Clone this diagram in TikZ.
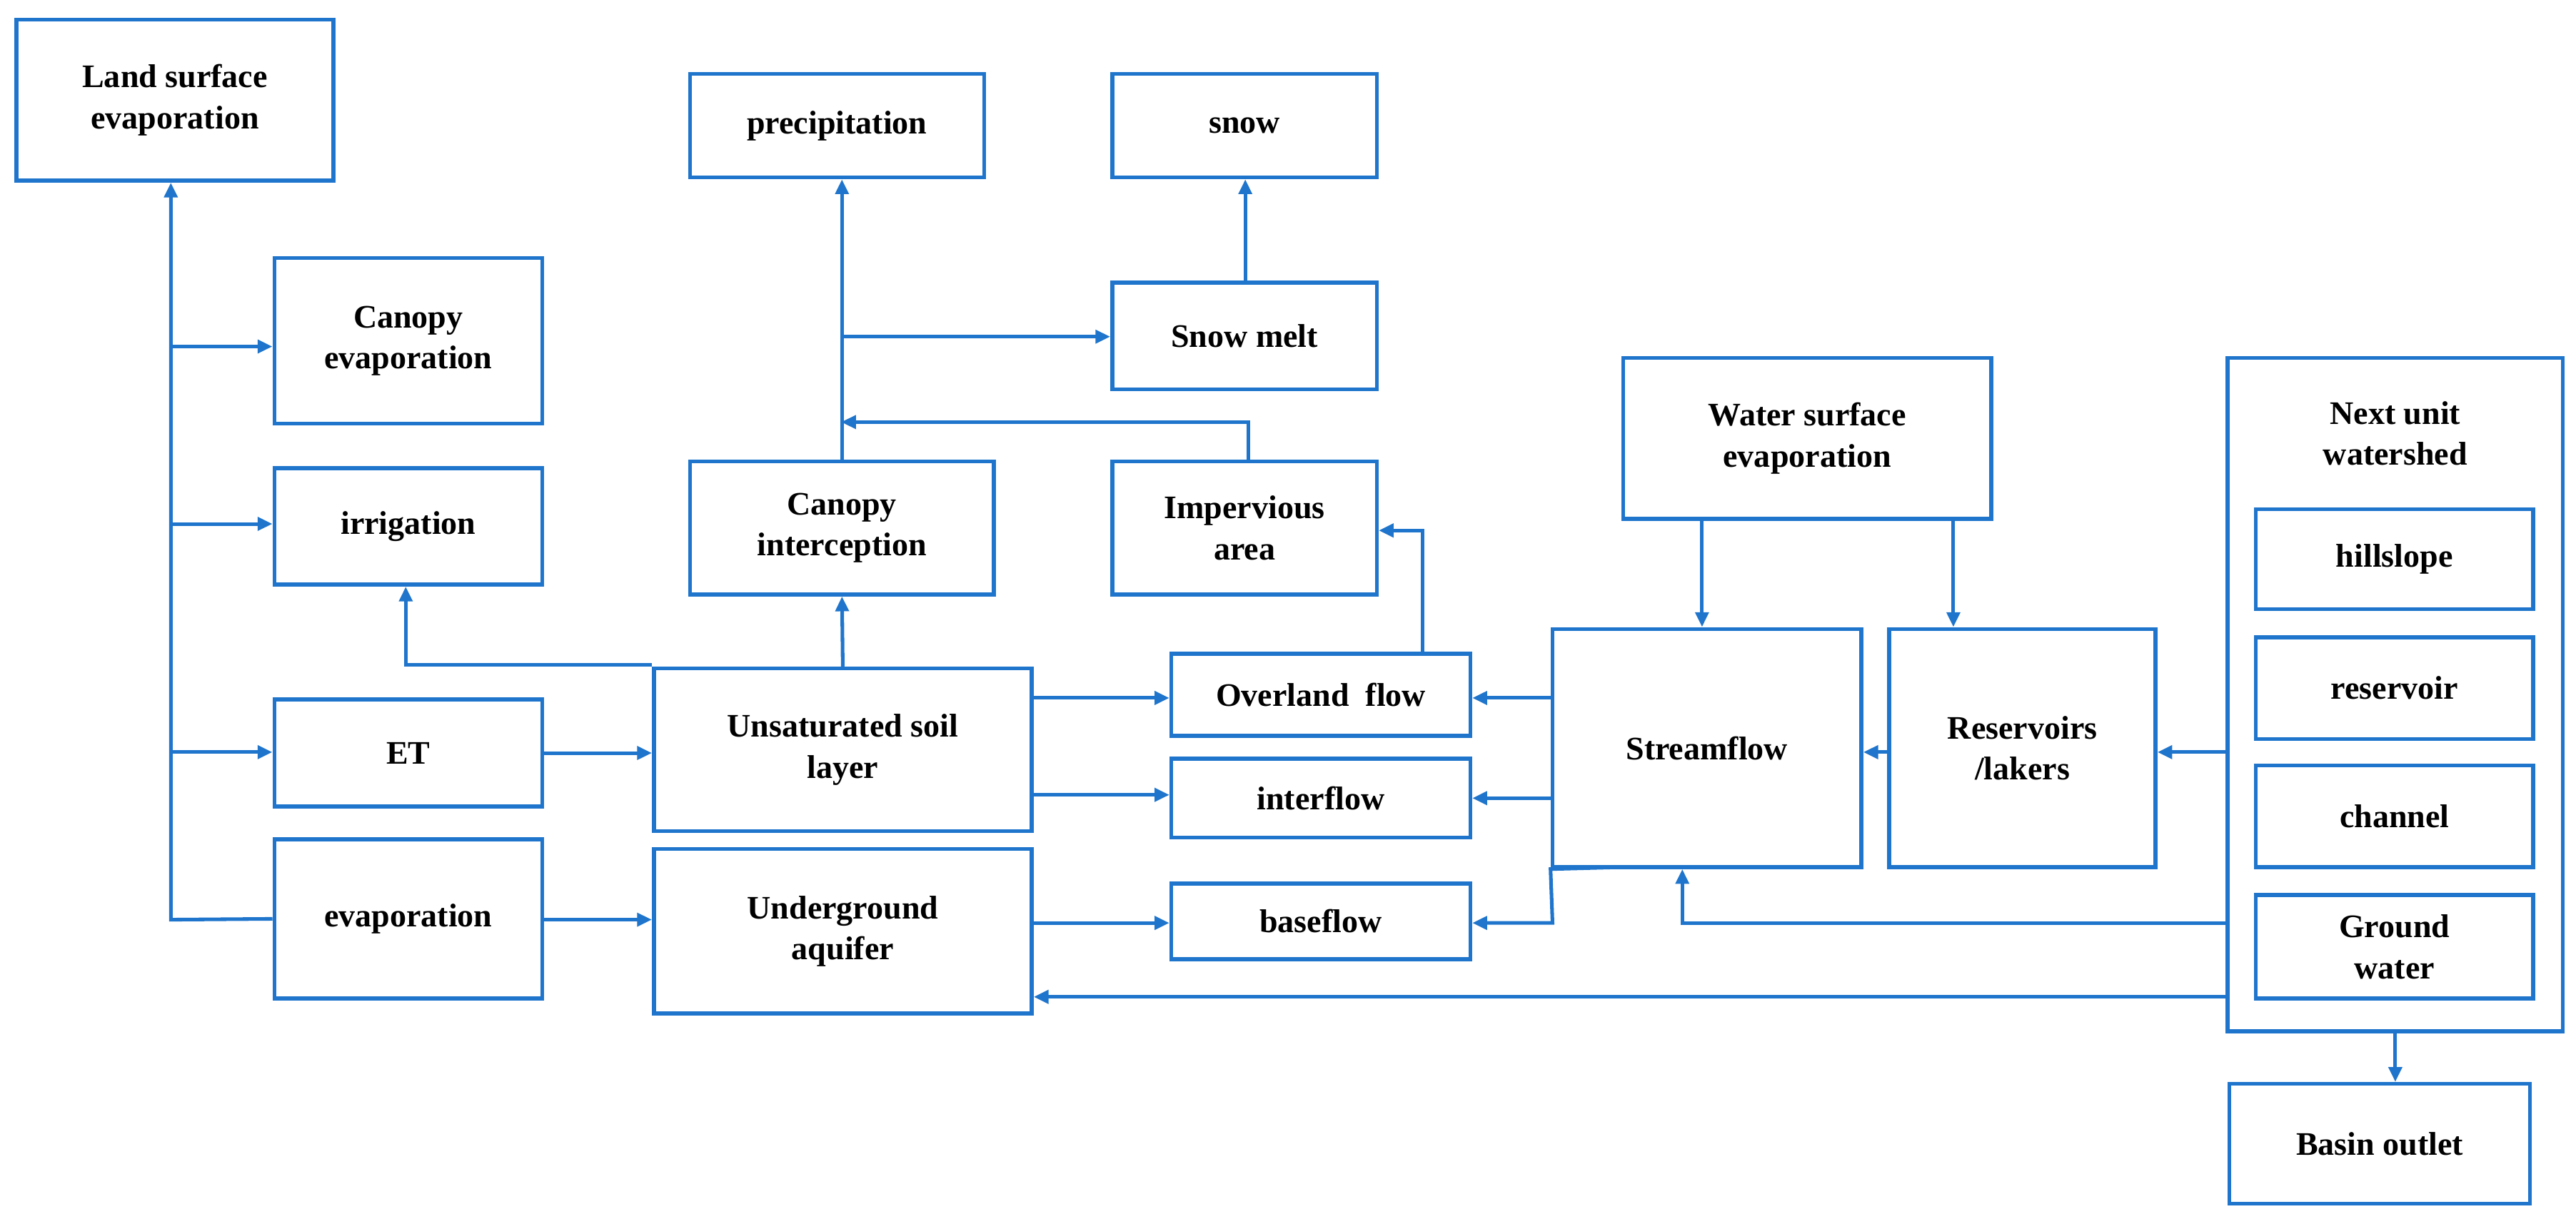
\documentclass[tikz,border=0pt]{standalone}
\usepackage{fontspec}
\setmainfont{Liberation Serif}
\usetikzlibrary{arrows.meta}
\definecolor{bl}{RGB}{31,117,204}
\begin{document}
\begin{tikzpicture}[x=1pt,y=-1pt,
 box/.style={draw=bl,line width=2.4pt,align=center,inner sep=0pt,font=\fontsize{20}{25}\selectfont\bfseries},
 ar/.style={draw=bl,line width=2.2pt,-{Triangle[length=9pt,width=8pt]}},
 ln/.style={draw=bl,line width=2.2pt}]
\useasboundingbox (0,0) rectangle (1568,745);
\newcommand{\bx}[6]{\node[box,minimum width=#4,minimum height=#5] (#1) at (#2,#3) {#6};}
\bx{land}{106.5}{61}{193}{98}{Land surface\\evaporation}
\bx{precip}{509.5}{76.5}{179}{63}{precipitation}
\bx{snow}{757.5}{76.5}{161}{63}{snow}
\bx{canevap}{248.5}{207.5}{163}{101}{Canopy\\evaporation}
\bx{snowmelt}{757.5}{204.5}{161}{65}{Snow melt}
\bx{water}{1100}{267}{224}{98}{Water surface\\evaporation}
\bx{next}{1458}{423}{204}{410}{}
\node[box,draw=none] (nextlbl) at (1458,264) {Next unit\\watershed};
\bx{hill}{1457.5}{340.5}{169}{61}{hillslope}
\bx{reservoir}{1457.5}{419}{169}{62}{reservoir}
\bx{channel}{1457.5}{497}{169}{62}{channel}
\bx{ground}{1457.5}{576.5}{169}{63}{Ground\\water}
\bx{basin}{1448.5}{696.5}{183}{73}{Basin outlet}
\bx{irrig}{248.5}{320.5}{163}{71}{irrigation}
\bx{canint}{512.5}{321.5}{185}{81}{Canopy\\interception}
\bx{imperv}{757.5}{321.5}{161}{81}{Impervious\\area}
\bx{unsat}{513}{456.5}{230}{99}{Unsaturated soil\\layer}
\bx{overland}{804}{423}{182}{50}{Overland~ flow}
\bx{inter}{804}{486}{182}{48}{interflow}
\bx{stream}{1039}{455.5}{188}{145}{Streamflow}
\bx{reslak}{1231}{455.5}{162}{145}{Reservoirs\\/lakers}
\bx{et}{248.5}{458.5}{163}{65}{ET}
\bx{evap}{248.5}{559.5}{163}{97}{evaporation}
\bx{under}{513}{567}{230}{100}{Underground\\aquifer}
\bx{base}{804}{561}{182}{46}{baseflow}
% left trunk
\coordinate (t1) at (104,560);
\draw[ar] (evap.west) -- (t1) -- (land.south -| t1);
\draw[ar] (104,211) -- (canevap.west |- 0,211);
\draw[ar] (104,319) -- (irrig.west |- 0,319);
\draw[ar] (104,458) -- (et.west |- 0,458);
\draw[ar] (et.east) -- (unsat.west |- et.east);
\draw[ar] (evap.east |- 0,560) -- (under.west |- 0,560);
\draw[ar] (unsat.north) -- (canint.south);
\draw[ar] (unsat.west |- 0,405) -- (247,405) -- (irrig.south -| 247,0);
\draw[ar] (canint.north) -- (precip.south -| canint.north);
\draw[ar] (512,205) -- (snowmelt.west |- 0,205);
\draw[ar] (imperv.north -| 760,0) -- (760,257) -- (512,257);
\draw[ar] (snowmelt.north -| 758,0) -- (snow.south -| 758,0);
\draw[ar] (overland.north -| 866,0) -- (866,323) -- (imperv.east |- 0,323);
\draw[ar] (unsat.east |- 0,425) -- (overland.west |- 0,425);
\draw[ar] (unsat.east |- 0,484) -- (inter.west |- 0,484);
\draw[ar] (under.east |- 0,562) -- (base.west |- 0,562);
\draw[ar] (stream.west |- 0,425) -- (overland.east |- 0,425);
\draw[ar] (stream.west |- 0,486) -- (inter.east |- 0,486);
\draw[ar] (988,528) -- (stream.south west) -- (945,562) -- (base.east |- 0,562);
\draw[ar] (water.south -| 1036,0) -- (stream.north -| 1036,0);
\draw[ar] (water.south -| 1189,0) -- (reslak.north -| 1189,0);
\draw[ar] (reslak.west |- 0,458) -- (stream.east |- 0,458);
\draw[ar] (next.west |- 0,458) -- (reslak.east |- 0,458);
\draw[ar] (next.west |- 0,562) -- (1024,562) -- (stream.south -| 1024,0);
\draw[ar] (next.west |- 0,607) -- (under.east |- 0,607);
\draw[ar] (next.south) -- (basin.north -| next.south);
\end{tikzpicture}
\end{document}
